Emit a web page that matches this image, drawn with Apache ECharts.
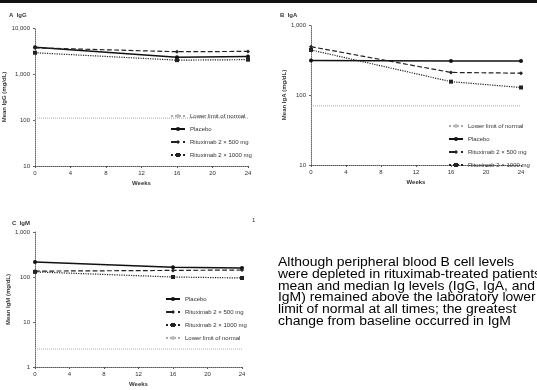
<!DOCTYPE html>
<html>
<head>
<meta charset="utf-8">
<script src="https://cdn.jsdelivr.net/npm/echarts@6/dist/echarts.min.js"></script>
<style>
    html, body { margin: 0; padding: 0; background: #fff; }
    #main { width: 537px; height: 390px; }
</style>
</head>
<body>
<div id="main"></div>
<script>
// data (mg/dL, log axes)
const weeks = [0, 16, 24];
const weekTicks = [0, 4, 8, 12, 16, 20, 24];

const iggPlacebo = [3800, 2300, 2400];
const igg500 = [3700, 3050, 3100];
const igg1000 = [2900, 2000, 2050];
const iggLln = 110;

const igaPlacebo = [310, 305, 305];
const iga500 = [490, 210, 205];
const iga1000 = [440, 155, 128];
const igaLln = 70;

const igmPlacebo = [215, 165, 158];
const igm500 = [135, 140, 143];
const igm1000 = [130, 100, 95];
const igmLln = 2.5;

const paragraph = [
    'Although peripheral blood B cell levels',
    'were depleted in rituximab-treated patients,',
    'mean and median Ig levels (IgG, IgA, and',
    'IgM) remained above the laboratory lower',
    'limit of normal at all times; the greatest',
    'change from baseline occurred in IgM'
];

const names = ['Placebo', 'Rituximab 2 × 500 mg', 'Rituximab 2 × 1000 mg', 'Lower limit of normal'];
const ink = '#333';
const tiny = { fontSize: 6, color: ink, fontFamily: 'Liberation Sans' };

let chart = echarts.init(document.getElementById('main'));

function pairs(vals) {
    return weeks.map((w, i) => [w, vals[i]]);
}
function flat(v) {
    return [[0, v], [24, v]];
}

function panelSeries(idx, p, r5, r10, lln) {
    return [
        {
            name: names[3], type: 'line', xAxisIndex: idx, yAxisIndex: idx,
            data: flat(lln), symbol: 'none',
            itemStyle: { color: '#bbb' },
            lineStyle: { color: '#aaa', width: 1, type: 'dotted' }
        },
        {
            name: names[0], type: 'line', xAxisIndex: idx, yAxisIndex: idx,
            data: pairs(p), symbol: 'circle', symbolSize: 4,
            itemStyle: { color: '#111' },
            lineStyle: { color: '#111', width: 1.5 }
        },
        {
            name: names[1], type: 'line', xAxisIndex: idx, yAxisIndex: idx,
            data: pairs(r5), symbol: 'diamond', symbolSize: 4,
            itemStyle: { color: '#222' },
            lineStyle: { color: '#222', width: 1.2, type: 'dashed' }
        },
        {
            name: names[2], type: 'line', xAxisIndex: idx, yAxisIndex: idx,
            data: pairs(r10), symbol: 'rect', symbolSize: 4,
            itemStyle: { color: '#222' },
            lineStyle: { color: '#222', width: 1.2, type: 'dotted' }
        }
    ];
}

function xAx(idx) {
    return {
        type: 'value', gridIndex: idx, min: 0, max: 24, interval: 4,
        name: 'Weeks', nameLocation: 'middle', nameGap: 14,
        nameTextStyle: { ...tiny, fontWeight: 'bold' },
        axisLine: { lineStyle: { color: '#555', type: 'dotted' } },
        axisTick: { length: 2, lineStyle: { color: '#555' } },
        axisLabel: { ...tiny, margin: 4 },
        splitLine: { show: false }
    };
}

function yAx(idx, min, max, label) {
    return {
        type: 'log', gridIndex: idx, min: min, max: max, logBase: 10,
        name: label, nameLocation: 'middle', nameGap: 20,
        nameTextStyle: { ...tiny, fontWeight: 'bold' },
        axisLine: { show: true, lineStyle: { color: '#666', type: 'dotted' } },
        axisTick: { length: 2, lineStyle: { color: '#666' } },
        axisLabel: { ...tiny, margin: 5 },
        splitLine: { show: false }
    };
}

function legend(left, top, order) {
    return {
        orient: 'vertical', left: left, top: top, itemGap: 7,
        itemWidth: 14, itemHeight: 5,
        textStyle: { ...tiny },
        data: order
    };
}

const option = {
    animation: false,
    grid: [
        { left: 35, top: 28, width: 213, height: 138 },
        { left: 311, top: 25, width: 210, height: 140 },
        { left: 35, top: 232, width: 207, height: 135 }
    ],
    xAxis: [xAx(0), xAx(1), xAx(2)],
    yAxis: [
        yAx(0, 10, 10000, 'Mean IgG (mg/dL)'),
        yAx(1, 10, 1000, 'Mean IgA (mg/dL)'),
        yAx(2, 1, 1000, 'Mean IgM (mg/dL)')
    ],
    legend: [
        legend(165, 108, [names[3], names[0], names[1], names[2]]),
        legend(443, 118, [names[3], names[0], names[1], names[2]]),
        legend(160, 291, [names[0], names[1], names[2], names[3]])
    ],
    graphic: [
        { type: 'rect', shape: { x: 0, y: 0, width: 537, height: 3 }, style: { fill: '#111' } },
        { type: 'text', left: 9, top: 12, style: { text: 'A  IgG', font: 'bold 6px Liberation Sans', fill: ink } },
        { type: 'text', left: 280, top: 12, style: { text: 'B  IgA', font: 'bold 6px Liberation Sans', fill: ink } },
        { type: 'text', left: 12, top: 220, style: { text: 'C  IgM', font: 'bold 6px Liberation Sans', fill: ink } },
        { type: 'text', left: 252, top: 217, style: { text: '1', font: '6px Liberation Sans', fill: ink } },
        {
            type: 'text', x: 278, y: 257, scaleX: 1.16,
            style: {
                text: paragraph.join('\n'),
                font: '12px Liberation Sans', fill: '#000', lineHeight: 11.7
            }
        }
    ],
    series: [
        ...panelSeries(0, iggPlacebo, igg500, igg1000, iggLln),
        ...panelSeries(1, igaPlacebo, iga500, iga1000, igaLln),
        ...panelSeries(2, igmPlacebo, igm500, igm1000, igmLln)
    ]
};

chart.setOption(option);

window.addEventListener('resize', function () {
    chart.resize();
});
</script>
</body>
</html>
